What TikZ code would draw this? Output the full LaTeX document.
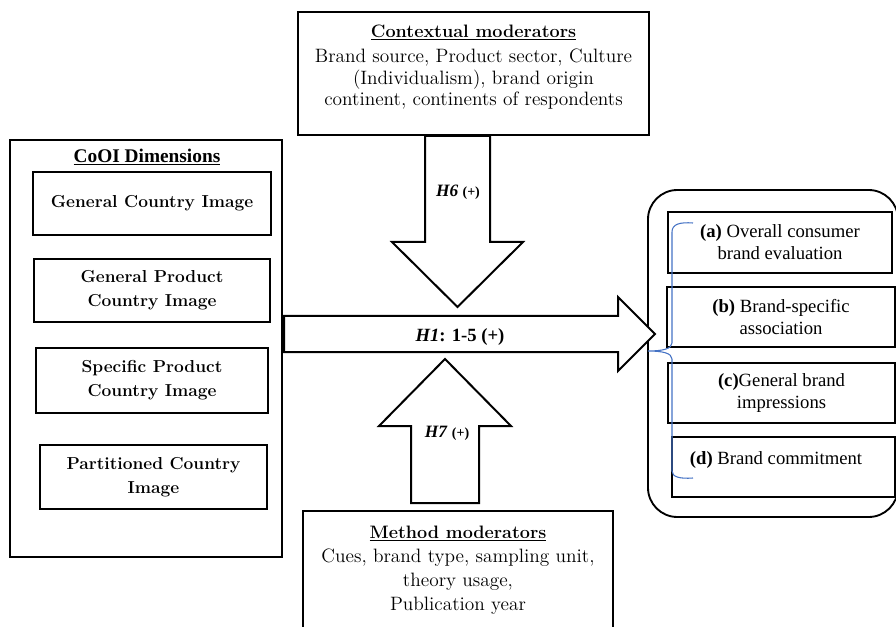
\documentclass[tikz,border=0pt]{standalone}
\usepackage{fontspec}
\newfontfamily\timesfont{Liberation Serif}
\definecolor{braceblue}{RGB}{68,114,196}

\begin{document}
\begin{tikzpicture}[x=0.75pt,y=-0.75pt,
        modbox/.style={draw, line width=2.2pt},
        dimbox/.style={draw, line width=1.3pt, align=center, font=\fontsize{13}{18}\selectfont\bfseries},
        brandbox/.style={draw, line width=1.3pt, align=center, font=\timesfont\fontsize{14}{16.5}\selectfont},
        hlabel/.style={font=\timesfont\fontsize{13}{15}\selectfont},
        blockarrow/.style={draw, line width=1.5pt, fill=white, line join=miter}]
        \clip (0,0) rectangle (896,627);

        % contextual moderators
        \node[modbox, minimum width=263.25pt, minimum height=92.25pt] (ctx) at (473.5,73.5) {};
        \node[align=center, font=\fontsize{14.5}{16}\selectfont] (ctxtxt) at (473.5,67)
            {\fontsize{13.5}{16}\selectfont\textbf{\underline{Contextual moderators}}\\[3pt]Brand source, Product sector, Culture\\(Individualism), brand origin\\continent, continents of respondents};

        % method moderators
        \node[modbox, minimum width=232.5pt, minimum height=96.75pt] (mth) at (458,575.5) {};
        \node[align=center, font=\fontsize{14.5}{18}\selectfont] (mthtxt) at (458,570)
            {\fontsize{13.5}{18}\selectfont\textbf{\underline{Method moderators}}\\Cues, brand type, sampling unit,\\theory usage,\\Publication year};

        % CoOI dimensions
        \node[draw, line width=1.3pt, minimum width=204pt, minimum height=312.75pt] (dims) at (146,348.5) {};
        \node[font=\timesfont\fontsize{14.5}{17}\selectfont\bfseries] (dimtitle) at (147,157) {\underline{CoOI Dimensions}};
        \node[dimbox, minimum width=178.5pt, minimum height=47.25pt] (gci) at (152,203.5) {General Country Image};
        \node[dimbox, minimum width=177pt, minimum height=47.25pt] (gpci) at (152,290.5) {General Product\\Country Image};
        \node[dimbox, minimum width=174pt, minimum height=48.75pt] (spci) at (152,380.5) {Specific Product\\Country Image};
        \node[dimbox, minimum width=170.25pt, minimum height=48pt] (pci) at (153.5,477) {Partitioned Country\\Image};

        % brand outcomes
        \node[draw, line width=1.4pt, rounded corners=22pt, minimum width=187.5pt, minimum height=245.25pt] (brands) at (773,353.5) {};
        \node[brandbox, minimum width=168pt, minimum height=45.75pt] (ba) at (780,242.5) {\textbf{(a)} Overall consumer\\brand evaluation};
        \node[brandbox, minimum width=171pt, minimum height=45pt] (bb) at (781,317) {\textbf{(b)} Brand-specific\\association};
        \node[brandbox, minimum width=170.25pt, minimum height=45pt] (bc) at (781.5,393) {\textbf{(c)}General brand\\impressions};
        \node[brandbox, minimum width=167.25pt, minimum height=45pt] (bd) at (783.5,467) {};
        \node[font=\timesfont\fontsize{14}{16.5}\selectfont] (bdtxt) at (776,460) {\textbf{(d)} Brand commitment};

        % bracket
        \draw[braceblue, line width=0.8pt] (693,223) .. controls (680,222) and (672,224) .. (672,232) -- (672,343)
            .. controls (672,349) and (662,351) .. (648,351) .. controls (662,351) and (672,353) .. (672,359)
            -- (672,471) .. controls (672,477) and (680,479) .. (693,478);

        % hypotheses arrows
        \draw[blockarrow] (425,136) -- (425,242) -- (392,242) -- (457.5,307) -- (523,242) -- (490,242) -- (490,136) -- cycle;
        \draw[blockarrow] (284,316) -- (618,316) -- (618,297) -- (655,334) -- (618,371) -- (618,352) -- (284,352) -- cycle;
        \draw[blockarrow] (411,503) -- (411,426) -- (379,426) -- (445,359) -- (511,426) -- (479,426) -- (479,503) -- cycle;

        \node[hlabel] (h6) at (458,192) {\textbf{\textit{H6}} {\fontsize{10.5}{12}\selectfont\textbf{(+)}}};
        \node[hlabel] (h7) at (447,433) {\textbf{\textit{H7}} {\fontsize{10.5}{12}\selectfont\textbf{(+)}}};
        \node[font=\timesfont\fontsize{14}{16}\selectfont] (h1) at (460,337) {\textbf{\textit{H1}: 1-5 (+)}};
\end{tikzpicture}
\end{document}
